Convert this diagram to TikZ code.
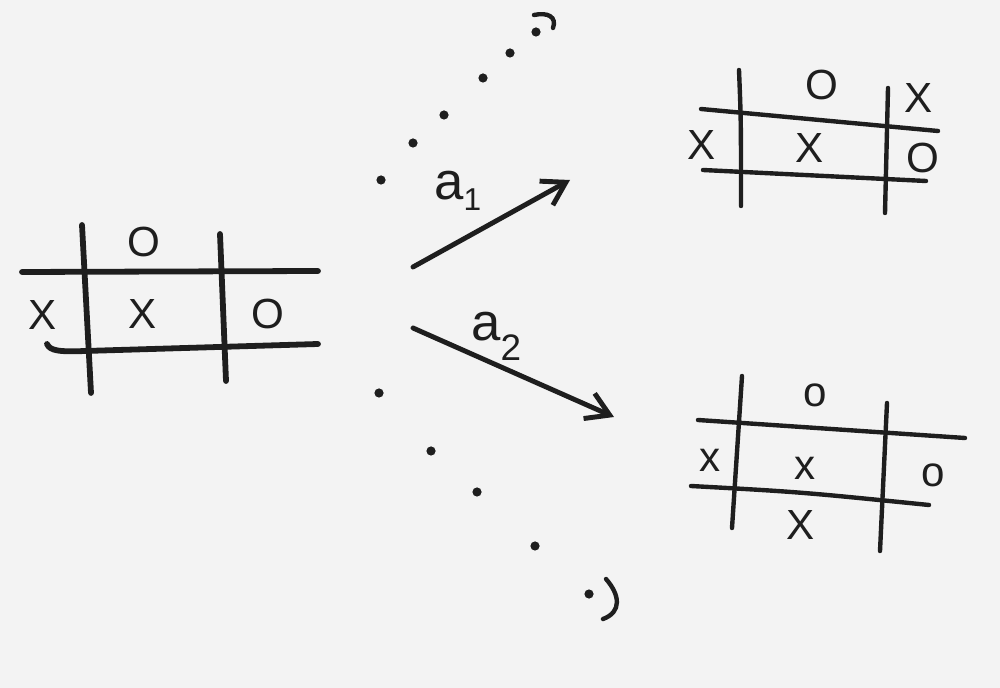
\documentclass[tikz,border=0pt]{standalone}
\usepackage{fontspec}
\setmainfont{Liberation Sans}
\usetikzlibrary{arrows.meta}
\definecolor{tinta}{HTML}{1E1E1E}
\definecolor{papel}{HTML}{F3F3F3}
\tikzset{
  gruesa/.style={line width=3.3pt, line cap=round, draw=tinta},
  linea/.style={line width=2.5pt, line cap=round, draw=tinta},
  sym/.style={text=tinta, inner sep=0pt, font=\fontsize{24}{24}\selectfont},
  etiq/.style={text=tinta, inner sep=0pt, anchor=base west, font=\fontsize{30}{30}\selectfont},
  flecha/.style={line width=2.8pt, line cap=round, draw=tinta,
    -{Straight Barb[length=0.45cm,width=0.55cm]}},
  punto/.style={fill=tinta},
}
\begin{document}
\begin{tikzpicture}[x=0.02cm,y=-0.02cm]
  \fill[papel] (0,0) rectangle (1000,688);
  \useasboundingbox (0,0) rectangle (1000,688);
  % tablero inicial
  \draw[gruesa] (22,272) -- (318,271);
  \draw[gruesa] (47,344) .. controls (50,351) and (60,352) .. (85,351) -- (318,344);
  \draw[gruesa] (82,225) -- (91,393);
  \draw[gruesa] (220,234) -- (226,381);
  \node[sym] (ini-n) at (144,242) {O};
  \node[sym] (ini-w) at (43,315) {X};
  \node[sym] (ini-c) at (143,314) {X};
  \node[sym] (ini-e) at (268,314) {O};
  % acciones
  \coordinate (a1s) at (413,267);
  \coordinate (a1e) at (570,180);
  \coordinate (a2s) at (413,328);
  \coordinate (a2e) at (614,417);
  \draw[flecha] (a1s) -- (a1e);
  \draw[flecha] (a2s) -- (a2e);
  \node[etiq] (l1) at (434,200) {a\raisebox{-6pt}{\fontsize{18}{18}\selectfont 1}};
  \node[etiq] (l2) at (471,341) {a\raisebox{-11pt}{\fontsize{21}{21}\selectfont 2}};
  % puntos suspensivos
  \foreach \p in {(381,180),(413,143),(444,115),(483,78),(510,53),(536,32),
                  (379,393),(431,451),(477,492),(535,546),(589,594)}
    \fill[punto] \p circle (4.6);
  \draw[linea] (534,15) .. controls (548,12) and (557,17) .. (553,28);
  \draw[linea] (606,579) .. controls (620,595) and (622,612) .. (603,619);
  % tablero a1
  \draw[linea] (701,109) -- (938,131);
  \draw[linea] (703,170) -- (926,181);
  \draw[linea] (739,70) .. controls (741,120) .. (741,206);
  \draw[linea] (888,88) -- (885,213);
  \node[sym] (up-n) at (822,85) {O};
  \node[sym] (up-ne) at (919,98) {X};
  \node[sym] (up-w) at (702,145) {X};
  \node[sym] (up-c) at (810,148) {X};
  \node[sym] (up-e) at (923,158) {O};
  % tablero a2
  \draw[linea] (698,420) -- (965,438);
  \draw[linea] (691,486) .. controls (800,492) .. (929,505);
  \draw[linea] (742,376) -- (732,528);
  \draw[linea] (887,403) -- (880,551);
  \node[sym] (dn-n) at (815,395) {o};
  \node[sym] (dn-w) at (710,460) {x};
  \node[sym] (dn-c) at (805,468) {x};
  \node[sym] (dn-e) at (933,475) {o};
  \node[sym] (dn-s) at (801,525) {X};
\end{tikzpicture}
\end{document}
